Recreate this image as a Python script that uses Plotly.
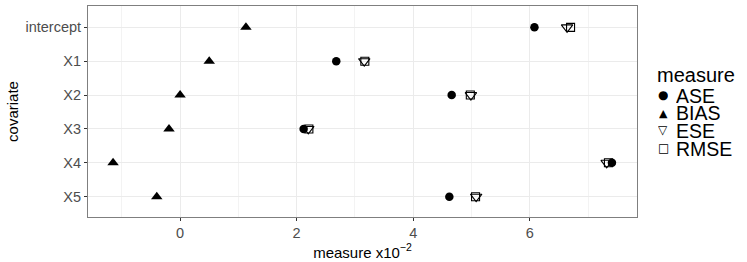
import plotly.graph_objects as go

covariates = ["intercept", "X1", "X2", "X3", "X4", "X5"]
ase = [6.08, 2.68, 4.66, 2.12, 7.41, 4.62]
bias = [1.13, 0.50, 0.00, -0.19, -1.15, -0.40]
ese = [6.64, 3.16, 4.99, 2.20, 7.32, 5.08]
rmse = [6.70, 3.17, 4.98, 2.21, 7.35, 5.07]
measures = ["ASE", "BIAS", "ESE", "RMSE"]
legend_glyphs = ["\u25CF", "\u25B2", "\u25BD", "\u25A1"]
x_ticks = [0, 2, 4, 6]

series = {"ASE": ase, "BIAS": bias, "ESE": ese, "RMSE": rmse}
styles = {
    "ASE": dict(symbol="circle", size=8.5, color="black", line=dict(width=0)),
    "BIAS": dict(symbol="triangle-up", size=10, color="black", line=dict(width=0)),
    "ESE": dict(symbol="triangle-down-open", size=10, color="black", line=dict(width=1.1, color="black")),
    "RMSE": dict(symbol="square-open", size=8, color="black", line=dict(width=1.1, color="black")),
}

fig = go.Figure()
for m in measures:
    fig.add_trace(go.Scatter(x=series[m], y=covariates, mode="markers", name=m,
                             marker=styles[m], showlegend=False))

font = "Liberation Sans, Arial, sans-serif"
W, H = 747, 262
ML, MR, MT, MB = 88, 110, 6, 45
pw, ph = W - ML - MR, H - MT - MB


def px_to_paper(px, py):
    return (px - ML) / pw, (H - MB - py) / ph


annotations = []
tx, ty = px_to_paper(655, 75)
annotations.append(dict(text="measure", x=tx, y=ty, xref="paper", yref="paper",
                        xanchor="left", yanchor="middle", showarrow=False,
                        font=dict(size=20, family=font, color="black")))
item_y = [95, 112.7, 130.2, 148]
glyph_sizes = [12, 11, 12, 12]
for m, g, iy, gs in zip(measures, legend_glyphs, item_y, glyph_sizes):
    gx, gy = px_to_paper(663, iy)
    lx, ly = px_to_paper(675, iy)
    annotations.append(dict(text=g, x=gx, y=gy, xref="paper", yref="paper",
                            xanchor="center", yanchor="middle", showarrow=False,
                            height=16, borderpad=0,
                            font=dict(size=gs, family="DejaVu Sans", color="black")))
    annotations.append(dict(text=m, x=lx, y=ly, xref="paper", yref="paper",
                            xanchor="left", yanchor="middle", showarrow=False,
                            height=17, borderpad=0, valign="middle",
                            font=dict(size=19.5, family=font, color="black")))

fig.update_layout(
    width=W, height=H,
    margin=dict(l=ML, r=MR, t=MT, b=MB),
    paper_bgcolor="white", plot_bgcolor="white",
    font=dict(family=font, color="black"),
    showlegend=False,
    annotations=annotations,
    xaxis=dict(
        range=[-1.58, 7.84], tickvals=x_ticks, ticktext=[str(v) for v in x_ticks],
        showgrid=True, gridcolor="#EBEBEB", gridwidth=1, zeroline=False,
        ticks="outside", ticklen=3, tickcolor="#333333",
        tickfont=dict(size=14.5, color="#4D4D4D", family=font),
        showline=True, linecolor="#7F7F7F", linewidth=1, mirror=True,
        title=dict(text="measure x10<sup>\u22122</sup>", font=dict(size=15, family=font), standoff=3),
        minor=dict(tickvals=[-1, 1, 3, 5, 7], showgrid=True, gridcolor="#F3F3F3", gridwidth=1),
    ),
    yaxis=dict(
        type="category", categoryorder="array", categoryarray=covariates,
        range=[5.6, -0.63],
        showgrid=True, gridcolor="#EBEBEB", gridwidth=1, zeroline=False,
        ticks="outside", ticklen=3, tickcolor="#333333",
        tickfont=dict(size=14.5, color="#4D4D4D", family=font),
        showline=True, linecolor="#7F7F7F", linewidth=1, mirror=True,
        title=dict(text="covariate", font=dict(size=15, family=font), standoff=3),
    ),
)

fig.write_html("out.html", post_script="document.body.style.margin='0';",
               config={"displayModeBar": False})
